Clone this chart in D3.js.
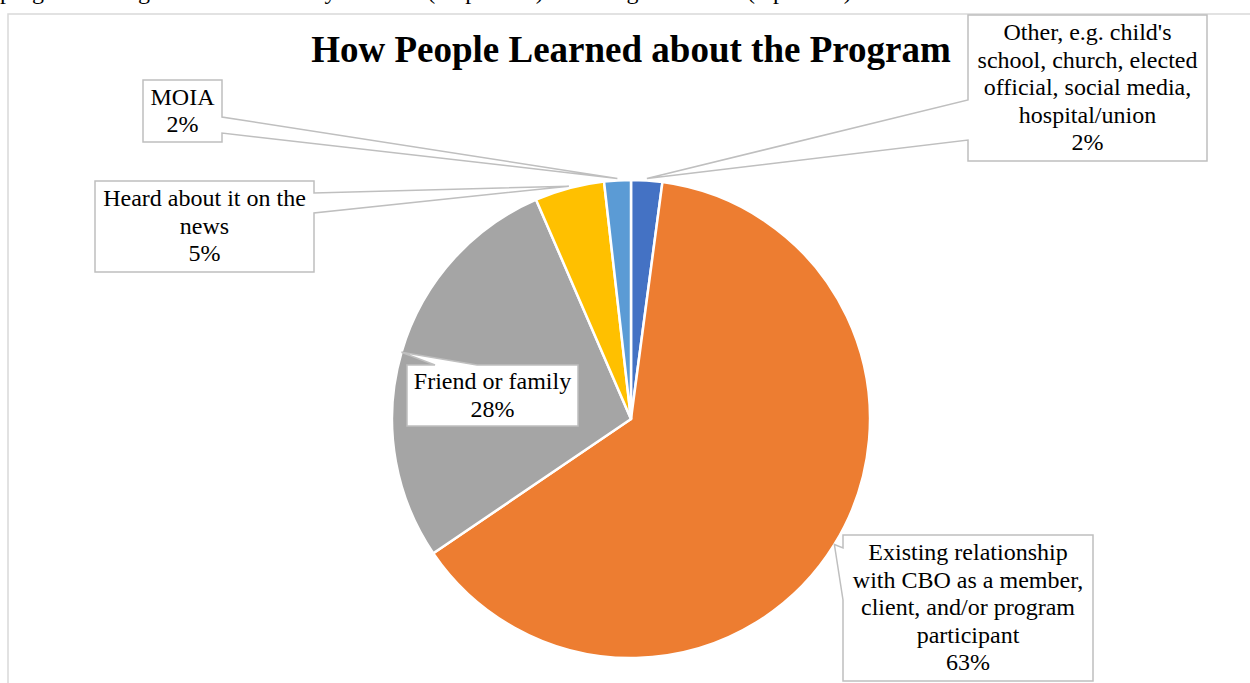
<!DOCTYPE html>
<html>
<head>
<meta charset="utf-8">
<script src="https://cdn.jsdelivr.net/npm/d3@7"></script>
<style>
	body { margin: 0; background: #fff; }
	svg { display: block; }
	text { font-family: "Liberation Serif", "DejaVu Serif", serif; }
</style>
</head>
<body>
<script>
// chart data (clockwise from 12 o'clock)
var categories = ["Other, e.g. child's school, church, elected official, social media, hospital/union",
	"Existing relationship with CBO as a member, client, and/or program participant",
	"Friend or family",
	"Heard about it on the news",
	"MOIA"];
var shares = [2.1, 63.4, 28.0, 4.7, 1.8];
var colors = ["#4472C4", "#ED7D31", "#A5A5A5", "#FFC000", "#5B9BD5"];
// label lines as Excel wrapped them
var labelLines = [
	["Other, e.g. child's", "school, church, elected", "official, social media,", "hospital/union"],
	["Existing relationship", "with CBO as a member,", "client, and/or program", "participant"],
	["Friend or family"],
	["Heard about it on the", "news"],
	["MOIA"]
];
var title = "How People Learned about the Program";

(function(){
	var width = 1250,
		height = 683;

	var svg = d3.select("body")
		.append("svg")
		.attr("width", width)
		.attr("height", height);

	//cut-off line of the surrounding document, only descenders show
	svg.append("text")
		.attr("x", 0)
		.attr("y", -1)
		.attr("font-size", 24)
		.attr("fill", "#000")
		.text("program through a friend or family member (28 percent) or through the news (5 percent).");

	//chart area border
	svg.append("path")
		.attr("d", "M8," + height + "V14H" + width)
		.attr("fill", "none")
		.attr("stroke", "#d9d9d9")
		.attr("stroke-width", 1.5);

	svg.append("text")
		.attr("x", 631)
		.attr("y", 62)
		.attr("text-anchor", "middle")
		.attr("font-size", 37)
		.attr("font-weight", "bold")
		.text(title);

	var cx = 631, cy = 419, radius = 239;

	var pie = d3.pie()
		.sort(null)
		.value(function(d){ return d; });

	var arcs = pie(shares);

	var arc = d3.arc()
		.innerRadius(0)
		.outerRadius(radius);

	var g = svg.append("g")
		.attr("transform", "translate(" + cx + "," + cy + ")");

	g.selectAll(".slice")
		.data(arcs)
		.enter()
		.append("path")
		.attr("class", "slice")
		.attr("d", arc)
		.attr("fill", function(d, i){ return colors[i]; })
		.attr("stroke", "#fff")
		.attr("stroke-width", 2.5)
		.attr("stroke-linejoin", "round");

	//callout boxes: x, y, w, h, which side the wedge leaves from and where
	var boxes = [
		{x: 968, y: 15, w: 239, h: 146, side: "left", a: 100, b: 140, r: radius + 2},
		{x: 843, y: 535, w: 250, h: 146, side: "left", a: 548, b: 600, r: radius},
		{x: 407, y: 365, w: 171, h: 61, side: "top", a: 435, b: 477, r: radius},
		{x: 95, y: 181, w: 219, h: 91, side: "right", a: 193, b: 213, r: radius + 2},
		{x: 143, y: 80, w: 79, h: 62, side: "right", a: 117, b: 133, r: radius + 2}
	];

	var lineH = 27.5;

	arcs.forEach(function(d, i){
		var bx = boxes[i];
		var mid = (d.startAngle + d.endAngle) / 2;
		var tx = cx + bx.r * Math.sin(mid),
			ty = cy - bx.r * Math.cos(mid);

		var x0 = bx.x, y0 = bx.y, x1 = bx.x + bx.w, y1 = bx.y + bx.h;
		var p;
		if (bx.side == "left") {
			p = "M" + x0 + "," + y0 + "H" + x1 + "V" + y1 + "H" + x0 +
				"V" + bx.b + "L" + tx + "," + ty + "L" + x0 + "," + bx.a + "Z";
		} else if (bx.side == "right") {
			p = "M" + x0 + "," + y0 + "H" + x1 + "V" + bx.a + "L" + tx + "," + ty +
				"L" + x1 + "," + bx.b + "V" + y1 + "H" + x0 + "Z";
		} else {
			p = "M" + x0 + "," + y0 + "H" + bx.a + "L" + tx + "," + ty + "L" + bx.b + "," + y0 +
				"H" + x1 + "V" + y1 + "H" + x0 + "Z";
		}

		svg.append("path")
			.attr("class", "callout")
			.attr("d", p)
			.attr("fill", "#fff")
			.attr("stroke", "#bfbfbf")
			.attr("stroke-width", 1.5)
			.attr("stroke-linejoin", "miter");

		var lines = labelLines[i].concat([Math.round(shares[i]) + "%"]);
		var top = y0 + (bx.h - lines.length * lineH) / 2;

		svg.append("text")
			.attr("text-anchor", "middle")
			.attr("font-size", 24)
			.attr("fill", "#000")
			.selectAll("tspan")
			.data(lines)
			.enter()
			.append("tspan")
			.attr("x", x0 + bx.w / 2)
			.attr("y", function(t, j){ return top + j * lineH + 21; })
			.text(function(t){ return t; });
	});
})();
</script>
</body>
</html>
